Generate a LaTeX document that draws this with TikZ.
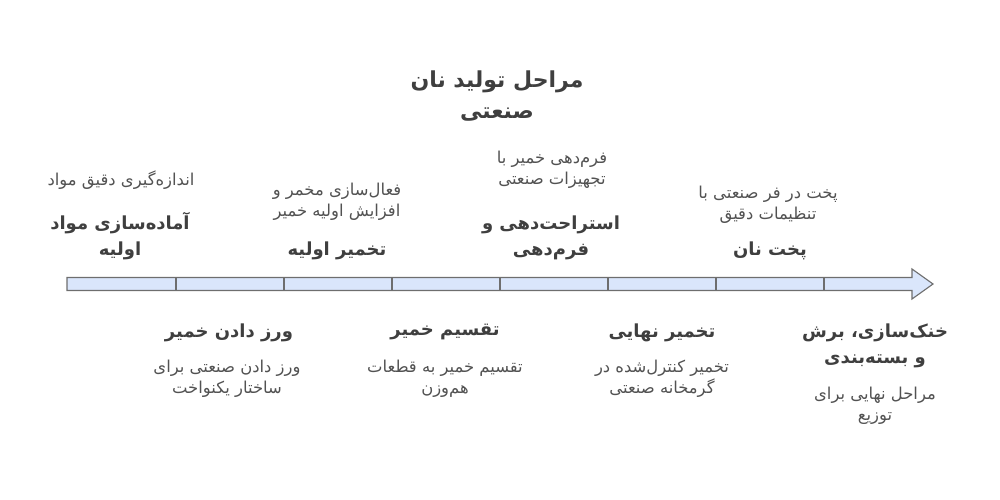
\documentclass[tikz,border=0pt]{standalone}
\usepackage{fontspec}
\TeXXeTstate=1
\newfontfamily\arfont[Script=Arabic]{DejaVu Sans}
\definecolor{ttlc}{HTML}{3F3F3F}
\definecolor{dscc}{HTML}{525252}
\definecolor{barfill}{HTML}{DAE6FB}
\definecolor{barline}{HTML}{6E6E6E}
\newcommand{\rl}[1]{\beginR #1\endR}
\begin{document}
\begin{tikzpicture}[x=1pt,y=-1pt,
  maintitle/.style={font=\arfont\bfseries\fontsize{22}{31}\selectfont, text=ttlc, align=center, inner sep=0pt},
  steptitle/.style={font=\arfont\bfseries\fontsize{18}{26}\selectfont, text=ttlc, align=center, inner sep=0pt},
  stepdesc/.style={font=\arfont\fontsize{16.4}{21}\selectfont, text=dscc, align=center, inner sep=0pt},
  bar/.style={draw=barline, fill=barfill, line width=1.1pt, line join=miter},
  divider/.style={draw=barline, line width=1.1pt}]
\useasboundingbox (0,0) rectangle (1000,500);

% title
\node[maintitle, anchor=south] (title) at (497,121) {\rl{مراحل تولید نان}\\\rl{صنعتی}};

% timeline arrow
\path[bar] (67,277.5) -- (912,277.5) -- (912,269) -- (933,284) -- (912,299) -- (912,290.5) -- (67,290.5) -- cycle;
\foreach \xx in {176,284,392,500,608,716,824}
  \draw[divider] (\xx,277.5) -- (\xx,290.5);

% top items
\node[steptitle, anchor=south] (t1) at (120,260) {\rl{آماده^^^^200cسازی مواد}\\\rl{اولیه}};
\node[stepdesc, anchor=south] (d1) at (121,190) {\rl{اندازه^^^^200cگیری دقیق مواد}};

\node[steptitle, anchor=south] (t3) at (337,260) {\rl{تخمیر اولیه}};
\node[stepdesc, anchor=south] (d3) at (337,221) {\rl{فعال^^^^200cسازی مخمر و}\\\rl{افزایش اولیه خمیر}};

\node[steptitle, anchor=south] (t5) at (551,260) {\rl{استراحت^^^^200cدهی و}\\\rl{فرم^^^^200cدهی}};
\node[stepdesc, anchor=south] (d5) at (552,189) {\rl{فرم^^^^200cدهی خمیر با}\\\rl{تجهیزات صنعتی}};

\node[steptitle, anchor=south] (t7) at (770,260) {\rl{پخت نان}};
\node[stepdesc, anchor=south] (d7) at (768,224) {\rl{پخت در فر صنعتی با}\\\rl{تنظیمات دقیق}};

% bottom items
\node[steptitle, anchor=north] (t2) at (229,324) {\rl{ورز دادن خمیر}};
\node[stepdesc, anchor=north] (d2) at (227,360) {\rl{ورز دادن صنعتی برای}\\\rl{ساختار یکنواخت}};

\node[steptitle, anchor=north] (t4) at (445,324) {\rl{تقسیم خمیر}};
\node[stepdesc, anchor=north] (d4) at (445,360) {\rl{تقسیم خمیر به قطعات}\\\rl{هم^^^^200cوزن}};

\node[steptitle, anchor=north] (t6) at (662,324) {\rl{تخمیر نهایی}};
\node[stepdesc, anchor=north] (d6) at (662,360) {\rl{تخمیر کنترل^^^^200cشده در}\\\rl{گرمخانه صنعتی}};

\node[steptitle, anchor=north] (t8) at (875,324) {\rl{خنک^^^^200cسازی، برش}\\\rl{و بسته^^^^200cبندی}};
\node[stepdesc, anchor=north] (d8) at (875,387) {\rl{مراحل نهایی برای}\\\rl{توزیع}};
\end{tikzpicture}
\end{document}
